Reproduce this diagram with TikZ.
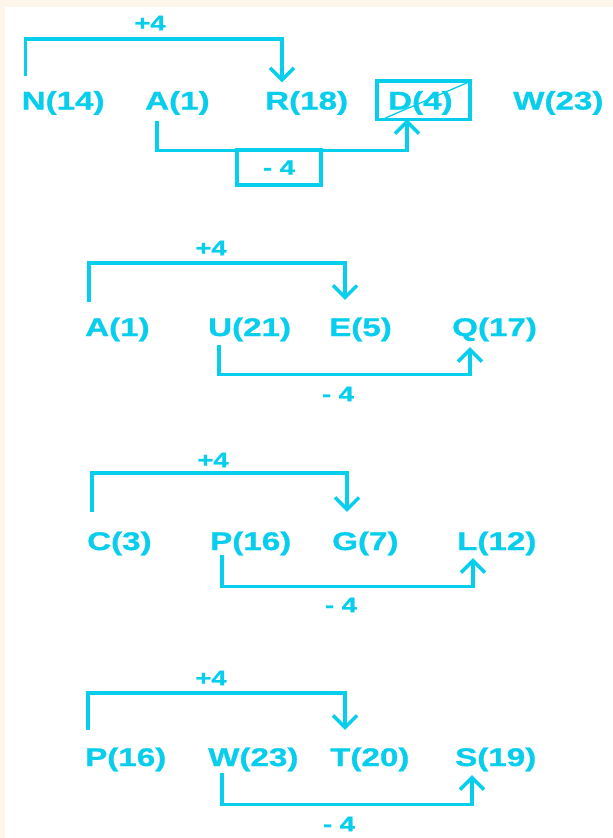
\documentclass[tikz,border=0pt]{standalone}
\usepackage{fontspec}
\setmainfont{Liberation Sans}[FakeStretch=1.3]
\newfontfamily\heavyfont{Liberation Sans Bold}[FakeStretch=1.3,FakeBold=1]
\usetikzlibrary{arrows.meta}
\definecolor{cy}{HTML}{08CEEE}
\definecolor{cream}{HTML}{FEF6EA}
\begin{document}
\begin{tikzpicture}[x=1pt,y=-1pt,
  lbl/.style={anchor=base west, inner sep=0pt, text height=18pt, text depth=0pt, text=cy, font=\fontsize{25.5}{30}\selectfont\heavyfont},
  small/.style={inner sep=0pt, text=cy, font=\fontsize{21}{24}\selectfont\heavyfont},
  link/.style={draw=cy, line width=3.4pt, line join=miter},
  arr/.style={link, -{Straight Barb[length=12pt,width=24pt,line width=3.4pt]}}]
\useasboundingbox (0,0) rectangle (613,838);
\fill[cream] (0,0) rectangle (613,838);
\fill[white] (5,7) rectangle (613,838);

% ---------- block 1 ----------
\node[lbl] (N1) at (21.5,109.5) {N(14)};
\node[lbl] (A1) at (145,109.5) {A(1)};
\node[lbl] (R1) at (265,109.5) {R(18)};
\node[lbl] (D1) at (388,109.5) {D(4)};
\node[lbl] (W1) at (513,109.5) {W(23)};
\node[small] (pl1) at (150,23) {+4};
\coordinate (Dbl) at ([shift={(-11,9.5)}]D1.south west);
\coordinate (Dtr) at ([shift={(82,-10.5)}]D1.north west);
\draw[link] (Dbl) rectangle (Dtr);
\draw[draw=cy, line width=1.3pt] ([shift={(8,-1)}]Dbl) -- ([shift={(-3,2)}]Dtr);
\node[small, draw=cy, line width=3.4pt, minimum width=84pt, minimum height=35pt] (mn1) at (279,167.5) {- 4};
\draw[arr] ([shift={(4,-15.5)}]N1.north west) -- ++(0,-37) -| ([shift={(17,-9)}]R1.north west);
\draw[arr] ([shift={(12,11.5)}]A1.south west) -- ++(0,29) -| ([xshift=30pt]Dbl);

% ---------- block 2 ----------
\node[lbl] (A2) at (85,336) {A(1)};
\node[lbl] (U2) at (208,336) {U(21)};
\node[lbl] (E2) at (329,336) {E(5)};
\node[lbl] (Q2) at (452,336) {Q(17)};
\node[small] (pl2) at (211,248) {+4};
\node[small] (mn2) at (338,394) {- 4};
\draw[arr] ([shift={(4,-16)}]A2.north west) -- ++(0,-39) -| ([shift={(16,-18)}]E2.north west);
\draw[arr] ([shift={(11,9)}]U2.south west) -- ++(0,29) -| ([shift={(18,11)}]Q2.south west);

% ---------- block 3 ----------
\node[lbl] (C3) at (87,550) {C(3)};
\node[lbl] (P3) at (210,550) {P(16)};
\node[lbl] (G3) at (332,550) {G(7)};
\node[lbl] (L3) at (457,550) {L(12)};
\node[small] (pl3) at (213,460) {+4};
\node[small] (mn3) at (341,605) {- 4};
\draw[arr] ([shift={(5,-20)}]C3.north west) -- ++(0,-39) -| ([shift={(15,-20)}]G3.north west);
\draw[arr] ([shift={(12,5)}]P3.south west) -- ++(0,31) -| ([shift={(16,8)}]L3.south west);

% ---------- block 4 ----------
\node[lbl] (P4) at (85,766) {P(16)};
\node[lbl] (W4) at (208,766) {W(23)};
\node[lbl] (T4) at (330,766) {T(20)};
\node[lbl] (S4) at (455,766) {S(19)};
\node[small] (pl4) at (211,678) {+4};
\node[small] (mn4) at (339,824) {- 4};
\draw[arr] ([shift={(3,-18)}]P4.north west) -- ++(0,-37) -| ([shift={(15,-18)}]T4.north west);
\draw[arr] ([shift={(14,7)}]W4.south west) -- ++(0,31) -| ([shift={(17,9)}]S4.south west);
\end{tikzpicture}
\end{document}
